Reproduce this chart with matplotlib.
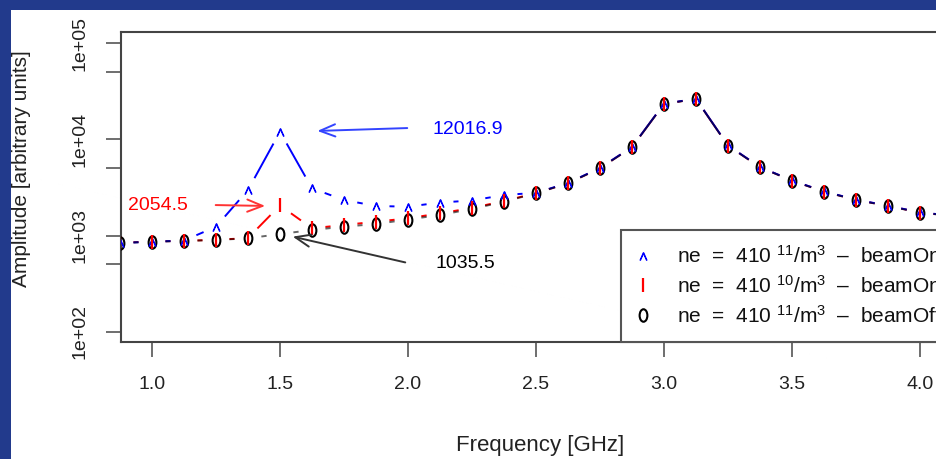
import numpy as np
import matplotlib
matplotlib.use("Agg")
import matplotlib.pyplot as plt
from matplotlib.collections import LineCollection
from matplotlib.patches import Rectangle
from matplotlib.path import Path
from matplotlib.transforms import Affine2D
from matplotlib.ticker import FixedLocator, FixedFormatter, NullFormatter

plt.rcParams["font.family"] = ["Liberation Sans", "DejaVu Sans"]
plt.rcParams["mathtext.fontset"] = "custom"
plt.rcParams["mathtext.rm"] = "Liberation Sans"
plt.rcParams["mathtext.it"] = "Liberation Sans"

# frequency points [GHz]
freq = [0.875, 1.0, 1.125, 1.25, 1.375, 1.5, 1.625, 1.75, 1.875, 2.0, 2.125,
        2.25, 2.375, 2.5, 2.625, 2.75, 2.875, 3.0, 3.125, 3.25, 3.375, 3.5,
        3.625, 3.75, 3.875, 4.0, 4.125]

# amplitudes (arbitrary units)
beam_on_11 = [835, 862, 885, 1235, 2975, 12016.9, 3098, 2341, 2028, 1995, 2204,
              2313, 2637, 2780, 3520, 5050, 8330, 23500, 26500, 8650, 5160, 3740,
              2880, 2360, 2045, 1740, 1610]
beam_on_10 = [840, 866, 880, 902, 940, 2054.5, 1189, 1286, 1392, 1510, 1702,
              1932, 2286, 2760, 3500, 5020, 8300, 23400, 26400, 8620, 5140, 3730,
              2865, 2350, 2035, 1735, 1605]
beam_off = [835, 862, 877, 898, 935, 1035.5, 1141, 1235, 1317, 1467, 1635,
            1888, 2248, 2749, 3493, 5003, 8277, 23350, 26320, 8596, 5127, 3717,
            2857, 2341, 2028, 1727, 1600]

legend_labels = [r"ne  =  410 $^{11}$/m$^{3}$  –  beamOn",
                 r"ne  =  410 $^{10}$/m$^{3}$  –  beamOn",
                 r"ne  =  410 $^{11}$/m$^{3}$  –  beamOff"]

xticks = [1.0, 1.5, 2.0, 2.5, 3.0, 3.5, 4.0]
yticks = [1e2, 1e3, 1e4, 1e5]
ytick_labels = ["1e+02", "1e+03", "1e+04", "1e+05"]
yticks_minor = [5e2, 5e3, 5e4]

W, H = 936, 459
fig = plt.figure(figsize=(W / 100, H / 100), dpi=100)
fig.patch.set_facecolor("#223a8c")
fig.patches.append(Rectangle((11 / W, 0), 1, (H - 10) / H, transform=fig.transFigure,
                             facecolor="white", edgecolor="none", zorder=-10))

ax = fig.add_axes([121 / W, 1 - 342 / H, (953 - 121) / W, 310 / H])
ax.set_yscale("log")
ax.set_xlim(0.879, 4.129)
ax.set_ylim(10 ** 1.8918, 10 ** 5.1176)

for s in ax.spines.values():
    s.set_color("#444444")
    s.set_linewidth(1.5)

ax.xaxis.set_major_locator(FixedLocator(xticks))
ax.xaxis.set_major_formatter(FixedFormatter([f"{t:.1f}" for t in xticks]))
ax.yaxis.set_major_locator(FixedLocator(yticks))
ax.yaxis.set_major_formatter(FixedFormatter(ytick_labels))
ax.yaxis.set_minor_locator(FixedLocator(yticks_minor))
ax.yaxis.set_minor_formatter(NullFormatter())
ax.xaxis.set_minor_locator(FixedLocator([]))
ax.tick_params(axis="both", which="both", direction="out", length=10.5, width=1.2,
               color="#555555", labelsize=14, labelcolor="#222222")
ax.tick_params(axis="x", pad=14)
ax.tick_params(axis="y", pad=13, labelrotation=90)
for lab in ax.get_yticklabels():
    lab.set_va("center")


def gapped(xs, ys, gap=13.5):
    """R type='b' style: segments between points, cut back near each point."""
    pts = ax.transData.transform(np.column_stack([xs, ys]))
    inv = ax.transData.inverted()
    segs = []
    for p0, p1 in zip(pts[:-1], pts[1:]):
        d = p1 - p0
        L = np.hypot(*d)
        if L <= 2 * gap:
            continue
        u = d / L
        segs.append(inv.transform(np.array([p0 + u * gap, p1 - u * gap])))
    return segs


# connecting lines; black drawn last, semi-transparent so overlaps look dark purple
for vals, col, alpha in [(beam_on_10, "#ff0000", 1.0), (beam_on_11, "#0000ff", 1.0),
                         (beam_off, "black", 0.6)]:
    ax.add_collection(LineCollection(gapped(freq, vals), colors=col, linewidths=1.4,
                                     alpha=alpha, zorder=2))

# tall open oval, like R's "o"/"0" glyph marker
oval = Path.unit_circle().transformed(Affine2D().scale(0.62, 1.0))

series = [
    (beam_off, "black", oval, 9, 1.5, "none"),
    (beam_on_11, "#0000ff", r"$\wedge$", 5.5, 0.8, "#0000ff"),
    (beam_on_10, "#ff0000", "|", 10, 1.6, "#ff0000"),
]
handles = {}
for vals, col, mk, ms, mew, mfc in series:
    h, = ax.plot(freq, vals, linestyle="none", marker=mk, markersize=ms,
                 markeredgewidth=mew, color=col, markerfacecolor=mfc, zorder=3)
    handles[col] = h

# annotations for the 1.5 GHz values
i15 = freq.index(1.5)
arrow = "->,head_length=0.55,head_width=0.22"
ax.text(2.094, 12530, f"{beam_on_11[i15]:.1f}", color="#0000ff", fontsize=14,
        ha="left", va="center")
ax.annotate("", xy=(1.635, 12220), xytext=(2.008, 13150),
            arrowprops=dict(arrowstyle=arrow, color="#3344ff", lw=1.4, mutation_scale=20))
ax.text(0.906, 2076, f"{beam_on_10[i15]:.1f}", color="#ff0000", fontsize=14,
        ha="left", va="center")
ax.annotate("", xy=(1.453, 2028), xytext=(1.238, 2076),
            arrowprops=dict(arrowstyle=arrow, color="#ff3333", lw=1.4, mutation_scale=20))
ax.text(2.109, 517, f"{beam_off[i15]:.1f}", color="black", fontsize=14,
        ha="left", va="center")
ax.annotate("", xy=(1.539, 988), xytext=(2.0, 517),
            arrowprops=dict(arrowstyle=arrow, color="#333333", lw=1.4, mutation_scale=20))

leg = ax.legend([handles["#0000ff"], handles["#ff0000"], handles["black"]], legend_labels,
                loc="lower left", bbox_to_anchor=(0.601, 0.0), borderaxespad=0,
                fontsize=15, fancybox=False, framealpha=1, edgecolor="#555555",
                borderpad=0.75, labelspacing=0.37, handlelength=0.62, handletextpad=1.3)
leg.get_frame().set_linewidth(1.5)
for t in leg.get_texts():
    t.set_color("#111111")

fig.text(22 / W, 1 - 169 / H, "Amplitude [arbitrary units]", rotation=90,
         ha="center", va="center", fontsize=15, color="#222222")
fig.text(540 / W, 1 - 446 / H, "Frequency [GHz]", ha="center", va="center",
         fontsize=16, color="#222222")

fig.savefig("out.png", dpi=100, facecolor=fig.get_facecolor())
